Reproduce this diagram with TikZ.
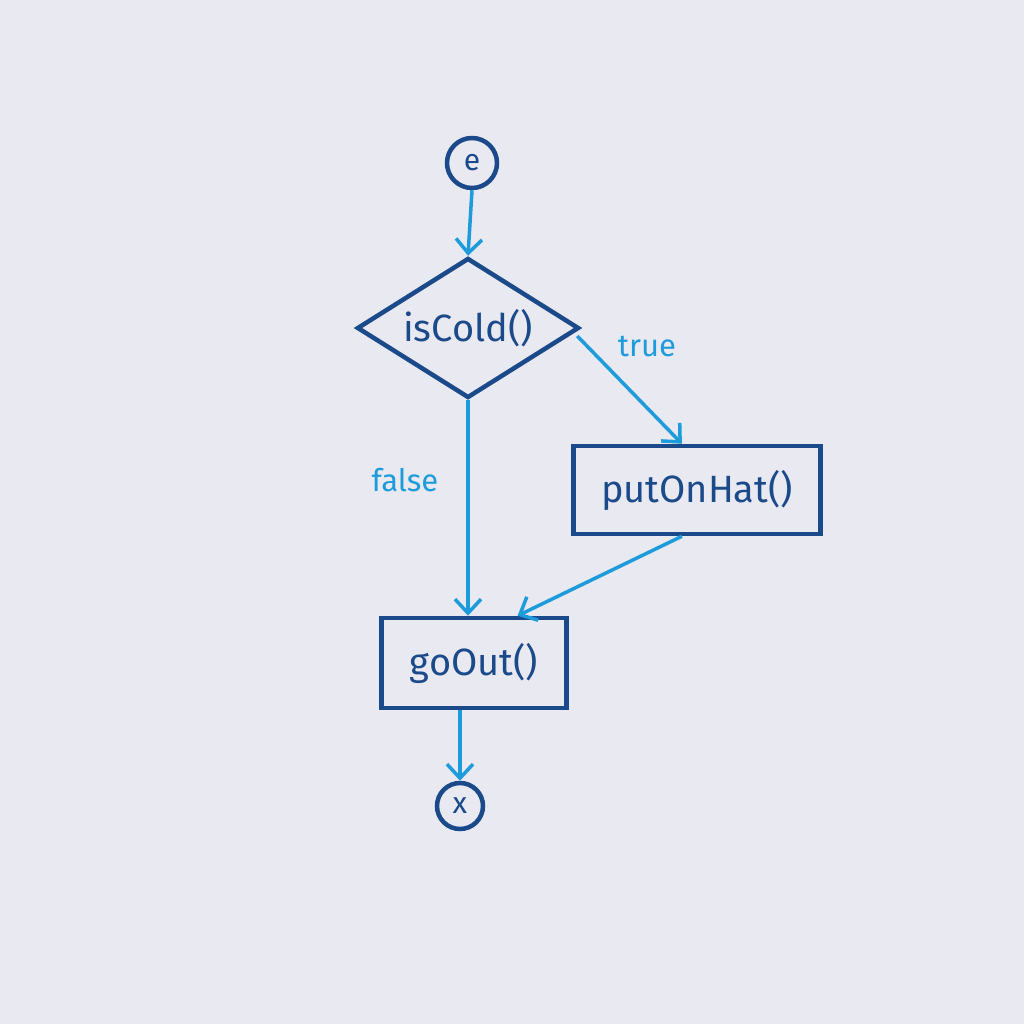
\documentclass[tikz,border=0pt]{standalone}
\usepackage{fontspec}
\setmainfont{Fira Sans}
\usetikzlibrary{shapes.geometric,arrows.meta,calc}
\definecolor{bgc}{HTML}{E9E9F1}
\definecolor{ink}{HTML}{1B4A8A}
\definecolor{arr}{HTML}{1E9BDB}
\tikzset{
  box/.style={draw=ink, line width=4.5pt, rectangle, inner sep=0pt, text=ink, font=\fontsize{38}{44}\selectfont},
  dec/.style={draw=ink, line width=4.5pt, diamond, aspect=1.6, inner sep=0pt, text=ink, font=\fontsize{38}{44}\selectfont},
  term/.style={draw=ink, line width=4.5pt, circle, inner sep=0pt, text=ink, font=\fontsize{30}{34}\selectfont},
  flow/.style={draw=arr, line width=3.5pt, -{Straight Barb[length=14pt,width=26pt,line width=3.5pt]}},
  lab/.style={text=arr, font=\fontsize{31}{36}\selectfont}
}
\begin{document}
\begin{tikzpicture}[x=1pt,y=-1pt]
\fill[bgc] (0,0) rectangle (1024,1024);
\useasboundingbox (0,0) rectangle (1024,1024);
\node[term, minimum size=50pt] (e) at (472,163) {e};
\node[dec, minimum width=222pt, minimum height=140pt] (d) at (468,328) {isCold()};
\node[box, minimum width=247pt, minimum height=88pt] (p) at (697,490) {putOnHat()};
\node[box, minimum width=185pt, minimum height=90pt] (g) at (474,663) {goOut()};
\node[term, minimum size=46pt] (x) at (460,806) {x};
\draw[flow] (e.south) -- (d.north);
\draw[flow] ($(d.east)+(-4,8)$) -- ($(p.north west)!0.44!(p.north east)$);
\draw[flow] (d.south) -- (d.south |- g.north);
\draw[flow] ($(p.south west)!0.44!(p.south east)$) -- ($(g.north west)!0.73!(g.north east)$);
\draw[flow] (x.north |- g.south) -- (x.north);
\node[lab] (t) at (647,347) {true};
\node[lab] (f) at (405,480) {false};
\end{tikzpicture}
\end{document}
